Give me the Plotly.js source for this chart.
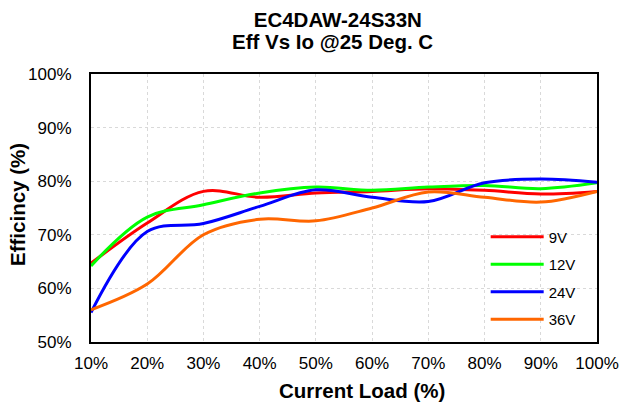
<!DOCTYPE html>
<html>
<head>
<meta charset="utf-8">
<script src="https://cdn.plot.ly/plotly-3.0.1.min.js"></script>
<style>
html,body{margin:0;padding:0;background:#fff;}
#chart{width:621px;height:403px;}
</style>
</head>
<body>
<div id="chart"></div>
<script>
var loadPct = [10, 20, 30, 40, 50, 60, 70, 80, 90, 100];
var eff9V  = [64.7, 72.2, 78.1, 77.0, 77.8, 78.1, 78.6, 78.3, 77.6, 78.1];
var eff12V = [64.2, 73.3, 75.6, 77.8, 78.9, 78.3, 78.9, 79.2, 78.6, 79.7];
var eff24V = [55.5, 70.6, 72.1, 75.3, 78.4, 77.0, 76.2, 79.7, 80.4, 79.8];
var eff36V = [56.0, 60.8, 70.0, 72.9, 72.6, 75.0, 78.0, 77.0, 76.1, 78.1];
var seriesNames = ['9V', '12V', '24V', '36V'];
var seriesColors = ['#FF0000', '#00FF00', '#0000FF', '#FF6600'];
var xTickVals = [10, 20, 30, 40, 50, 60, 70, 80, 90, 100];
var xTickText = ['10%', '20%', '30%', '40%', '50%', '60%', '70%', '80%', '90%', '100%'];
var yTickVals = [50, 60, 70, 80, 90, 100];
var yTickText = ['50%', '60%', '70%', '80%', '90%', '100%'];

var allY = [eff9V, eff12V, eff24V, eff36V];
var traces = allY.map(function (ys, i) {
  return {
    x: loadPct, y: ys, name: seriesNames[i], type: 'scatter', mode: 'lines',
    legendgroup: 'g' + i,
    line: {color: seriesColors[i], width: 3, shape: 'spline', smoothing: 1}
  };
});

var F = 'Liberation Sans, Arial, sans-serif';
var layout = {
  width: 621, height: 403,
  margin: {l: 91, r: 24, t: 74, b: 61},
  paper_bgcolor: '#fff', plot_bgcolor: '#fff',
  font: {family: F, color: '#000'},
  title: {text: 'EC4DAW-24S33N', font: {family: F, size: 20.5, weight: 'bold', color: '#000'},
          x: 0.544, xref: 'container', xanchor: 'center', y: 0.950, yref: 'container', yanchor: 'middle'},
  xaxis: {
    range: [10, 100], tickvals: xTickVals, ticktext: xTickText, ticks: '',
    showline: true, mirror: true, linecolor: '#000', linewidth: 2,
    showgrid: true, gridcolor: '#d9d9d9', gridwidth: 1, griddash: 'dot',
    zeroline: false, tickfont: {family: F, size: 17, color: '#000'},
    ticklabelstandoff: 5
  },
  yaxis: {
    range: [50, 100], tickvals: yTickVals, ticktext: yTickText, ticks: '',
    showline: true, mirror: true, linecolor: '#000', linewidth: 2,
    showgrid: true, gridcolor: '#d9d9d9', gridwidth: 1, griddash: 'dot',
    zeroline: false, tickfont: {family: F, size: 17, color: '#000'},
    ticklabelstandoff: 14
  },
  showlegend: true,
  legend: {
    x: 0.78, xanchor: 'left', y: 0.453, yanchor: 'top',
    bgcolor: 'rgba(0,0,0,0)', borderwidth: 0,
    font: {family: F, size: 15, color: '#000'},
    itemwidth: 53, tracegroupgap: 5
  },
  annotations: [
    {text: 'Eff Vs Io @25 Deg. C', xref: 'paper', yref: 'paper', x: 0.477, y: 1.120,
     xanchor: 'center', yanchor: 'middle', showarrow: false,
     font: {family: F, size: 20.5, weight: 'bold', color: '#000'}},
    {text: 'Current Load (%)', xref: 'paper', yref: 'paper', x: 0.5356, y: -0.181,
     xanchor: 'center', yanchor: 'middle', showarrow: false,
     font: {family: F, size: 20.5, weight: 'bold', color: '#000'}},
    {text: 'Efficincy (%)', xref: 'paper', yref: 'paper', x: -0.1443, y: 0.515,
     xanchor: 'center', yanchor: 'middle', showarrow: false, textangle: -90,
     font: {family: F, size: 20.5, weight: 'bold', color: '#000'}}
  ]
};

Plotly.newPlot('chart', traces, layout, {displayModeBar: false, staticPlot: true});
</script>
</body>
</html>
